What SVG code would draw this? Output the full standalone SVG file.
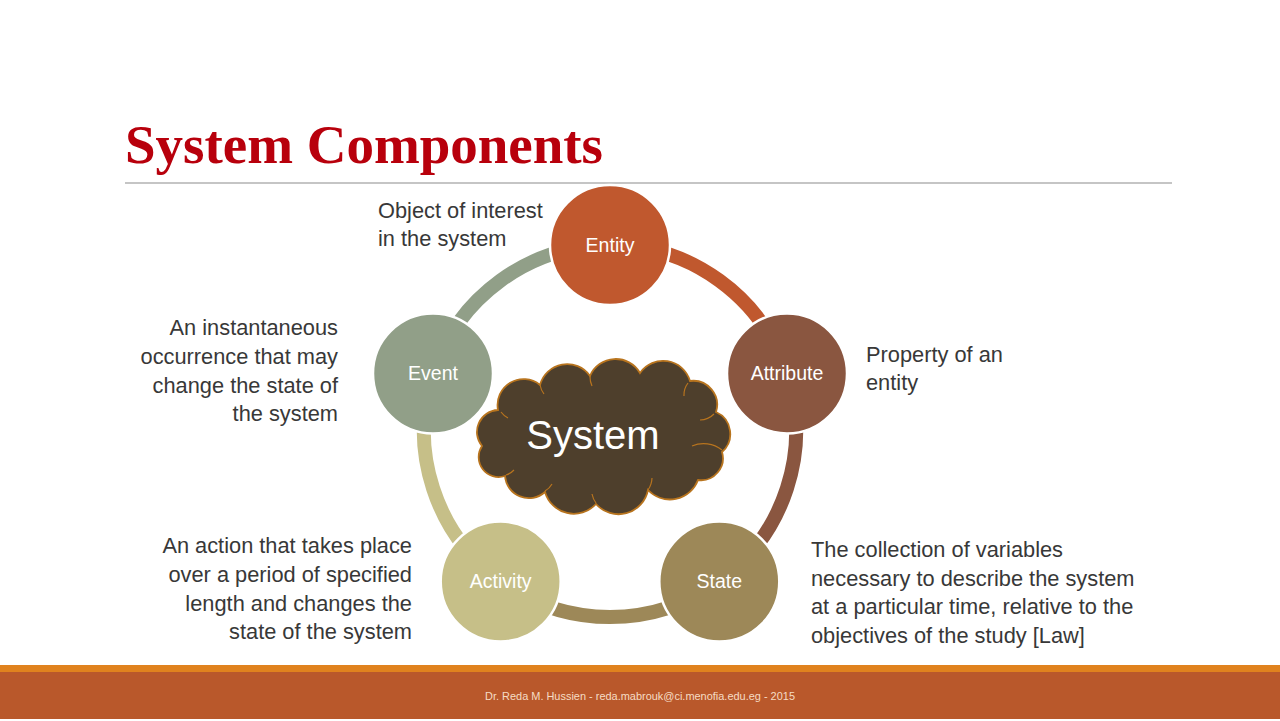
<svg xmlns="http://www.w3.org/2000/svg" width="1280" height="721" viewBox="0 0 1280 721">
<style>
.desc{font-family:"Liberation Sans",Arial,sans-serif;font-size:21.8px;fill:#383838}
.lbl{font-family:"Liberation Sans",Arial,sans-serif;font-size:19.5px;fill:#ffffff;text-anchor:middle}
.arc{fill:none;stroke-width:14}
.node{stroke:#ffffff;stroke-width:2.5}
</style>
<rect x="0" y="0" width="1280" height="721" fill="#ffffff"/>
<text x="125" y="163" font-family="'Liberation Serif','Times New Roman',serif" font-weight="bold" font-size="55" fill="#b8000c" textLength="478" lengthAdjust="spacingAndGlyphs">System Components</text>
<line x1="125" y1="183" x2="1172" y2="183" stroke="#8c8c8c" stroke-width="1.2"/>
<g id="connectors">
<path class="arc" stroke="#c0582e" d="M610,245 A186,186 0 0 1 786.9,373.5"/>
<path class="arc" stroke="#8a5640" d="M786.9,373.5 A186,186 0 0 1 719.3,581.5"/>
<path class="arc" stroke="#9d8858" d="M719.3,581.5 A186,186 0 0 1 500.7,581.5"/>
<path class="arc" stroke="#c6bf88" d="M500.7,581.5 A186,186 0 0 1 433.1,373.5"/>
<path class="arc" stroke="#919f88" d="M433.1,373.5 A186,186 0 0 1 610,245"/>
</g>
<g id="system">
<path fill="#4e3f2c" stroke="#b8741e" stroke-width="1.8" d="M498,410 A26,26 0 0 1 540,385 A28,28 0 0 1 590,376 A28,28 0 0 1 640,373 A28,28 0 0 1 690,381 A24,24 0 0 1 716,412 A24,24 0 0 1 722,452 A22,22 0 0 1 698,480 A30,30 0 0 1 648,490 A30,30 0 0 1 596,504 A30,30 0 0 1 545,492 A24,24 0 0 1 505,476 A20,20 0 0 1 482,446 A22,22 0 0 1 498,410 Z"/>
<path fill="none" stroke="#b8741e" stroke-width="1.2" d="M501,412 A20,20 0 0 0 508,418 M540,385 A22,22 0 0 0 544,394 M590,376 A22,22 0 0 0 592,386 M688,383 A20,20 0 0 0 684,396 M714,414 A20,20 0 0 1 700,420 M722,450 A30,30 0 0 0 692,446 M648,490 A22,22 0 0 0 652,478 M596,503 A22,22 0 0 1 592,494 M545,491 A18,18 0 0 0 552,484 M506,475 A18,18 0 0 0 514,470"/>
<text x="593" y="449" font-family="'Liberation Sans',Arial,sans-serif" font-size="40" fill="#ffffff" text-anchor="middle">System</text>
</g>
<g id="entity">
<circle class="node" cx="610" cy="245" r="60" fill="#c0582e"/>
<text class="lbl" x="610" y="252">Entity</text>
</g>
<g id="attribute">
<circle class="node" cx="787" cy="373.5" r="60" fill="#8a5640"/>
<text class="lbl" x="787" y="380">Attribute</text>
</g>
<g id="state">
<circle class="node" cx="719.3" cy="581.5" r="60" fill="#9d8858"/>
<text class="lbl" x="719.3" y="588">State</text>
</g>
<g id="activity">
<circle class="node" cx="500.7" cy="581.5" r="60" fill="#c6bf88"/>
<text class="lbl" x="500.7" y="588">Activity</text>
</g>
<g id="event">
<circle class="node" cx="433" cy="373.5" r="60" fill="#919f88"/>
<text class="lbl" x="433" y="380">Event</text>
</g>
<g id="descriptions">
<text class="desc" x="378" y="218">Object of interest</text>
<text class="desc" x="378" y="246">in the system</text>
<text class="desc" x="338" y="335" text-anchor="end">An instantaneous</text>
<text class="desc" x="338" y="364" text-anchor="end">occurrence that may</text>
<text class="desc" x="338" y="393" text-anchor="end">change the state of</text>
<text class="desc" x="338" y="421" text-anchor="end">the system</text>
<text class="desc" x="866" y="362">Property of an</text>
<text class="desc" x="866" y="390">entity</text>
<text class="desc" x="412" y="553" text-anchor="end">An action that takes place</text>
<text class="desc" x="412" y="582" text-anchor="end">over a period of specified</text>
<text class="desc" x="412" y="611" text-anchor="end">length and changes the</text>
<text class="desc" x="412" y="639" text-anchor="end">state of the system</text>
<text class="desc" x="811" y="557">The collection of variables</text>
<text class="desc" x="811" y="586">necessary to describe the system</text>
<text class="desc" x="811" y="614">at a particular time, relative to the</text>
<text class="desc" x="811" y="643">objectives of the study [Law]</text>
</g>
<rect x="0" y="665" width="1280" height="7" fill="#e0821e"/>
<rect x="0" y="672" width="1280" height="47" fill="#b9582b"/>
<text x="640" y="700" font-family="'Liberation Sans',Arial,sans-serif" font-size="10.5" fill="#f6dcc4" text-anchor="middle" textLength="310" lengthAdjust="spacingAndGlyphs">Dr. Reda M. Hussien - reda.mabrouk@ci.menofia.edu.eg - 2015</text>
</svg>
